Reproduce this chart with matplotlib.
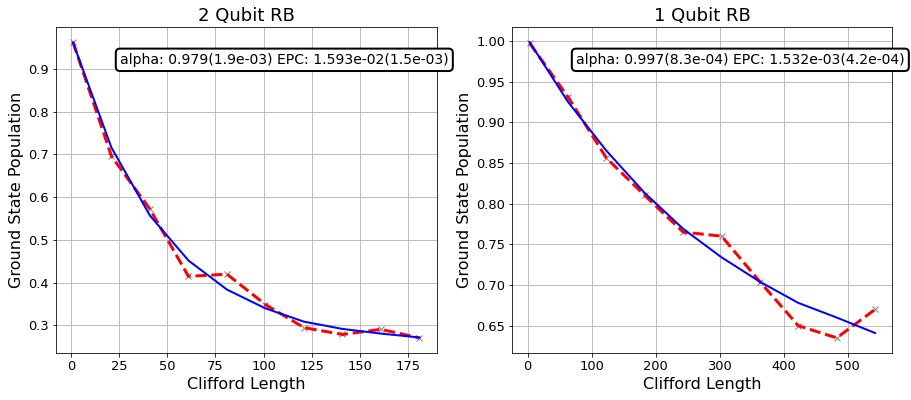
import matplotlib
matplotlib.use("Agg")
import matplotlib.pyplot as plt

# ---- data ----
x_2q = [1, 21, 41, 61, 81, 101, 121, 141, 161, 181]
y_2q_data = [0.963, 0.696, 0.572, 0.415, 0.420, 0.349, 0.295, 0.279, 0.291, 0.271]
y_2q_fit = [0.962, 0.716, 0.557, 0.452, 0.384, 0.340, 0.309, 0.292, 0.281, 0.272]
text_2q = "alpha: 0.979(1.9e-03) EPC: 1.593e-02(1.5e-03)"
title_2q = "2 Qubit RB"

x_1q = [3, 63, 123, 183, 243, 303, 363, 423, 483, 543]
y_1q_data = [0.997, 0.931, 0.856, 0.810, 0.765, 0.760, 0.704, 0.650, 0.635, 0.670]
y_1q_fit = [0.9985, 0.925, 0.865, 0.813, 0.769, 0.734, 0.704, 0.678, 0.660, 0.641]
text_1q = "alpha: 0.997(8.3e-04) EPC: 1.532e-03(4.2e-04)"
title_1q = "1 Qubit RB"

DPI = 72
fig = plt.figure(figsize=(911 / DPI, 400 / DPI), dpi=DPI)
ax1 = fig.add_axes([0.0611, 0.1183, 0.4183, 0.8135])
ax2 = fig.add_axes([0.5624, 0.1183, 0.4171, 0.8135])

for ax, xs, yd, yf, txt, ttl in [
    (ax1, x_2q, y_2q_data, y_2q_fit, text_2q, title_2q),
    (ax2, x_1q, y_1q_data, y_1q_fit, text_1q, title_1q),
]:
    ax.plot(xs, yd, color="gray", linestyle="none", marker="x")
    ax.plot(xs, yd, color="r", linestyle="--", linewidth=3)
    ax.plot(xs, yf, color="blue", linestyle="-", linewidth=2)
    ax.tick_params(labelsize=13)
    ax.set_xlabel("Clifford Length", fontsize=16)
    ax.set_ylabel("Ground State Population", fontsize=16)
    ax.grid(True)
    ax.set_title(ttl, fontsize=18)
    ax.text(0.6, 0.9, txt, ha="center", va="center", size=14,
            transform=ax.transAxes,
            bbox=dict(boxstyle="round", ec=(0, 0, 0), fc=(1, 1, 1), lw=2))

fig.savefig("out.png", dpi=DPI)
